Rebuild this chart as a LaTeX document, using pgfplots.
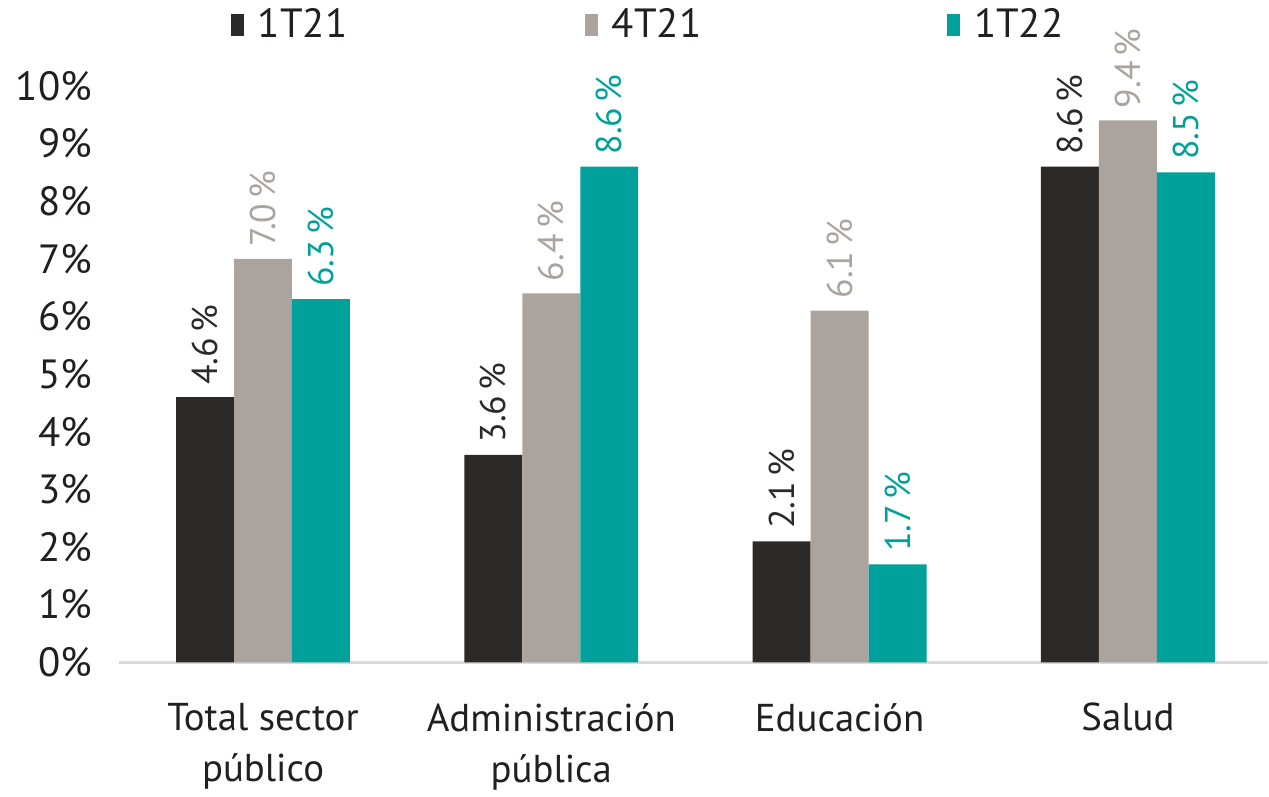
\documentclass[border=0pt]{standalone}
\usepackage{pgfplots}
\pgfplotsset{compat=1.18}
\usepackage{fontspec}
\setmainfont{PT Sans}
\definecolor{cDark}{HTML}{2B2A29}
\definecolor{cGray}{HTML}{ABA49E}
\definecolor{cTeal}{HTML}{00A19A}
\definecolor{cText}{HTML}{231F20}
\definecolor{cAxis}{HTML}{D9D9D9}
\begin{document}
\begin{tikzpicture}
\begin{axis}[
  width=575bp, height=288.5bp, scale only axis,
  xmin=-0.5, xmax=3.485, ymin=0, ymax=10,
  ybar=0pt, bar width=29bp,
  axis x line*=bottom, axis y line*=left,
  x axis line style={-, draw=cAxis, line width=1.3bp},
  y axis line style={draw=none},
  major tick length=0pt,
  xtick={0,1,2,3},
  xticklabels={{Total sector\\público},{Administración\\pública},{Educación},{Salud}},
  xticklabel style={align=center, font=\fontsize{19.5}{25.5}\selectfont, text=cText, yshift=-17bp},
  ytick={0,1,...,10},
  yticklabel={\pgfmathprintnumber{\tick}\%},
  yticklabel style={font=\fontsize{20.5}{22}\selectfont, text=cText, xshift=-10bp},
  /pgf/number format/assume math mode=true,
  clip=false,
  nodes near coords={\pgfmathprintnumber[fixed,fixed zerofill,precision=1]{\pgfplotspointmeta}\hspace{0.15em}\%},
  every node near coord/.append style={rotate=90, anchor=west, font=\fontsize{18}{20}\selectfont, inner sep=1bp, xshift=5bp},
  legend columns=3,
  legend style={draw=none, fill=none, at={(0.092,1.106)}, anchor=west,
    font=\fontsize{20.5}{22}\selectfont, text=cText,
    /tikz/every odd column/.append style={column sep=5bp},
    /tikz/column 2/.style={column sep=117bp},
    /tikz/column 4/.style={column sep=121bp}},
  legend image code/.code={\fill[#1] (0bp,-5.5bp) rectangle (6.5bp,5.5bp);},
]
\addplot[fill=cDark, draw=none, every node near coord/.append style={text=cDark}]
  coordinates {(0,4.6) (1,3.6) (2,2.1) (3,8.6)};
\addplot[fill=cGray, draw=none, every node near coord/.append style={text=cGray}]
  coordinates {(0,7.0) (1,6.4) (2,6.1) (3,9.4)};
\addplot[fill=cTeal, draw=none, every node near coord/.append style={text=cTeal}]
  coordinates {(0,6.3) (1,8.6) (2,1.7) (3,8.5)};
\legend{1T21,4T21,1T22}
\path (rel axis cs:0,0) ++(-59.5bp,-65.5bp) rectangle ++(634.5bp,397bp);
\end{axis}
\end{tikzpicture}
\end{document}
